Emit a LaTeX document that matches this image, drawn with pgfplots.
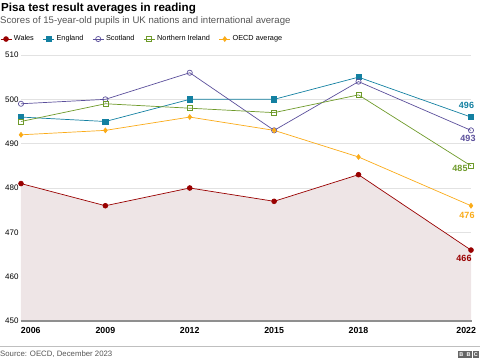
\documentclass[border=0pt]{standalone}
\usepackage{pgfplots}
\pgfplotsset{compat=1.18}
\usepackage{fontspec}
\setmainfont{Liberation Sans}
\definecolor{wales}{HTML}{990000}
\definecolor{england}{HTML}{1380A1}
\definecolor{scotland}{HTML}{5B4F9B}
\definecolor{nireland}{HTML}{6E9A2A}
\definecolor{oecd}{HTML}{FAAB18}
\definecolor{areafill}{HTML}{EEE5E6}
\definecolor{gridc}{HTML}{E2E2E2}
\definecolor{axisc}{HTML}{8F8F8F}
\definecolor{subc}{HTML}{555555}
\begin{document}
\begin{tikzpicture}
\path[use as bounding box] (0pt,0pt) rectangle (480pt,361pt);
\node[anchor=base west,inner sep=0,font=\bfseries\fontsize{11.6}{13}\selectfont] at (1pt,349.5pt) {Pisa test result averages in reading};
\node[anchor=base west,inner sep=0,text=subc,font=\fontsize{9.6}{11}\selectfont] at (0pt,337pt) {Scores of 15-year-old pupils in UK nations and international average};
\begin{axis}[
  at={(21pt,40pt)}, anchor=south west,
  scale only axis, width=450pt, height=266pt,
  xmin=2006, xmax=2022, ymin=450, ymax=510,
  clip=false,
  axis line style={draw=none},
  xtick={2006,2009,2012,2015,2018,2022},
  xticklabels={\makebox[0pt][l]{2006},2009,2012,2015,2018,\makebox[0pt][r]{2022\hspace*{-5pt}}},
  xticklabel style={font=\bfseries\fontsize{8.8}{10}\selectfont, yshift=-3pt},
  ytick={450,460,...,510},
  yticklabel style={font=\fontsize{8}{9}\selectfont, xshift=1pt},
  /pgf/number format/assume math mode=true,
  /pgf/number format/1000 sep={},
  major tick length=0,
  ymajorgrids, grid style={gridc, line width=0.7pt},
  legend style={at={(-0.0467,1.06)}, anchor=west, draw=none, fill=none,
    font=\fontsize{7.3}{8}\selectfont, legend columns=5,
    /tikz/every even column/.append style={column sep=7pt},
    inner sep=0pt, cells={anchor=west}},
  legend image code/.code={\draw[mark repeat=2,mark phase=2] plot coordinates {(0pt,0pt) (5.5pt,0pt) (11pt,0pt)};},
]
\addplot[fill=areafill, draw=none, forget plot] coordinates {(2006,481) (2009,476) (2012,480) (2015,477) (2018,483) (2022,466)} \closedcycle;
\addplot[wales, line width=0.7pt, mark=*, mark size=2.4pt, mark options={fill=wales}] coordinates {(2006,481) (2009,476) (2012,480) (2015,477) (2018,483) (2022,466)};
\addlegendentry{Wales}
\addplot[england, line width=0.7pt, mark=square*, mark size=2.6pt, mark options={fill=england}] coordinates {(2006,496) (2009,495) (2012,500) (2015,500) (2018,505) (2022,496)};
\addlegendentry{England}
\addplot[scotland, line width=0.7pt, mark=o, mark size=2.6pt, mark options={fill=white}] coordinates {(2006,499) (2009,500) (2012,506) (2015,493) (2018,504) (2022,493)};
\addlegendentry{Scotland}
\addplot[nireland, line width=0.7pt, mark=square, mark size=2.5pt, mark options={fill=white}] coordinates {(2006,495) (2009,499) (2012,498) (2015,497) (2018,501) (2022,485)};
\addlegendentry{Northern Ireland}
\addplot[oecd, line width=0.7pt, mark=diamond*, mark size=2.4pt, mark options={fill=oecd}] coordinates {(2006,492) (2009,493) (2012,496) (2015,493) (2018,487) (2022,476)};
\addlegendentry{OECD average}
\draw[axisc, line width=2pt] (axis cs:2006,450) -- ([xshift=1pt]axis cs:2022,450);
\begin{scope}[font=\bfseries\fontsize{9}{10}\selectfont]
\node[england] at ([xshift=-4.5pt,yshift=12pt]axis cs:2022,496) {496};
\node[scotland] at ([xshift=-3pt,yshift=-8pt]axis cs:2022,493) {493};
\node[nireland] at ([xshift=-11pt,yshift=-3pt]axis cs:2022,485) {485};
\node[oecd] at ([xshift=-4pt,yshift=-10pt]axis cs:2022,476) {476};
\node[wales] at ([xshift=-7pt,yshift=-8pt]axis cs:2022,466) {466};
\end{scope}
\end{axis}
\draw[black!25, line width=0.7pt] (0pt,14.5pt) -- (480pt,14.5pt);
\node[anchor=base west,inner sep=0,text=subc,font=\fontsize{7.8}{9}\selectfont] at (0pt,4pt) {Source: OECD, December 2023};
\foreach \i/\l in {0/B,1/B,2/C} {
  \fill[black!60] ({(458+\i*7.3)*1pt},3pt) rectangle ({(464.5+\i*7.3)*1pt},9.5pt);
  \node[white,inner sep=0,font=\bfseries\fontsize{5.5}{6}\selectfont] at ({(461.25+\i*7.3)*1pt},6.25pt) {\l};
}
\end{tikzpicture}
\end{document}
